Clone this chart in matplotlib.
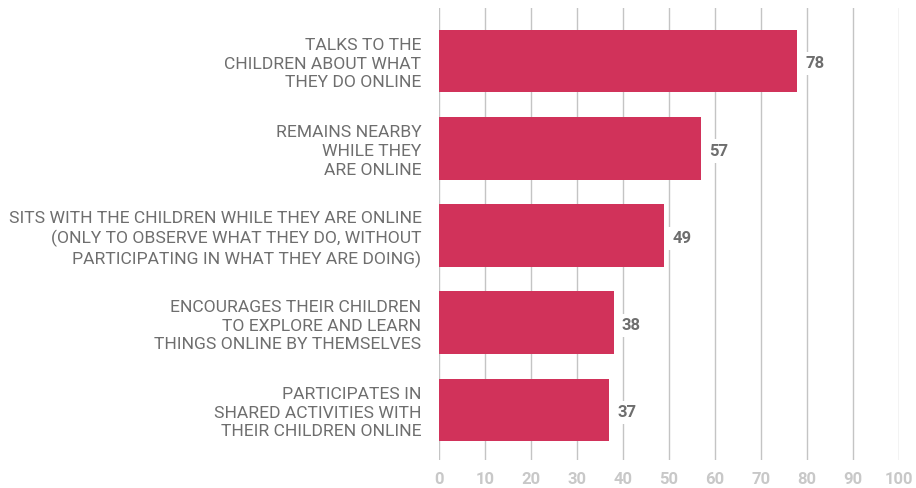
import matplotlib
matplotlib.use("Agg")
import matplotlib.pyplot as plt

categories = [
    "TALKS TO THE\nCHILDREN ABOUT WHAT\nTHEY DO ONLINE",
    "REMAINS NEARBY\nWHILE THEY\nARE ONLINE",
    "SITS WITH THE CHILDREN WHILE THEY ARE ONLINE\n(ONLY TO OBSERVE WHAT THEY DO, WITHOUT\nPARTICIPATING IN WHAT THEY ARE DOING)",
    "ENCOURAGES THEIR CHILDREN\nTO EXPLORE AND LEARN\nTHINGS ONLINE BY THEMSELVES",
    "PARTICIPATES IN\nSHARED ACTIVITIES WITH\nTHEIR CHILDREN ONLINE",
]
values = [78, 57, 49, 38, 37]
xticks = [0, 10, 20, 30, 40, 50, 60, 70, 80, 90, 100]

BAR = "#D1325A"
GRID = "#C4C4C4"
TEXT = "#6E6E6E"
TICK = "#C8C8C8"
FONT = "Roboto"

fig = plt.figure(figsize=(9.16, 4.88), dpi=100)
ax = fig.add_axes([0.479, 0.0574, 0.502, 0.9262])

y = list(range(len(values)))
ax.barh(y, values, height=0.72, color=BAR, zorder=2)
ax.set_ylim(len(values) - 1 + 0.573, -0.607)
ax.set_xlim(0, 100)

for xv in xticks:
    ax.axvline(xv, color=GRID, linewidth=1.0, zorder=1)

for spine in ax.spines.values():
    spine.set_visible(False)

ax.set_xticks(xticks)
ax.set_xticklabels([str(t) for t in xticks], fontfamily=FONT, fontsize=12,
                   fontweight="bold", color=TICK)
ax.tick_params(axis="x", length=0, pad=9)
ax.set_yticks(y)
ax.set_yticklabels(categories, fontfamily=FONT, fontsize=12.6, color=TEXT,
                   linespacing=1.3, ha="right")
ax.tick_params(axis="y", length=0, pad=12.5)

for yi, v in zip(y, values):
    ax.annotate(str(v), xy=(v, yi), xytext=(6, -2), textcoords="offset points",
                ha="left", va="center", fontfamily=FONT, fontsize=12,
                fontweight="bold", color=TEXT, zorder=3,
                bbox=dict(boxstyle="square,pad=0.25", facecolor="white",
                          edgecolor="none"))

fig.savefig("out.png", dpi=100)
